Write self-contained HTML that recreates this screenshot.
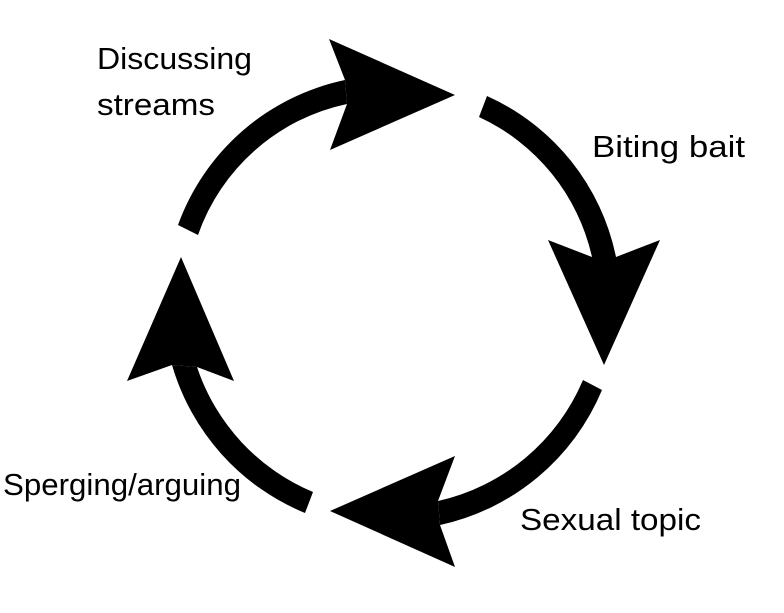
<!DOCTYPE html>
<html>
<head>
<meta charset="utf-8">
<style>
  html, body { margin: 0; padding: 0; background: #ffffff; }
  body { width: 784px; height: 613px; overflow: hidden; }
  svg { display: block; }
  text { font-family: "Liberation Sans", sans-serif; font-size: 31px; fill: #000; }
</style>
</head>
<body>
<svg width="784" height="613" viewBox="0 0 784 613" xmlns="http://www.w3.org/2000/svg">
  <rect x="0" y="0" width="784" height="613" fill="#ffffff"/>

  <!-- Arrow 1: top-left, pointing right -->
  <path d="M178,225 A227,227 0 0 1 345,80 L347,104 A202,202 0 0 0 198,235 Z" fill="#000"/>
  <polygon points="329,39 455,95 330,150 347,104 345,80" fill="#000"/>

  <!-- Arrow 2: right, pointing down -->
  <path d="M487,96 A226,226 0 0 1 616,257 L592,257 A203,203 0 0 0 479,117 Z" fill="#000"/>
  <polygon points="548,240 592,257 616,257 660,240 604,365" fill="#000"/>

  <!-- Arrow 3: bottom, pointing left -->
  <path d="M602,390 A228,228 0 0 1 440,525 L438,501 A206,206 0 0 0 583,380 Z" fill="#000"/>
  <polygon points="455,456 438,501 440,525 455,567 330,511" fill="#000"/>

  <!-- Arrow 4: left, pointing up -->
  <path d="M305,513 A229,229 0 0 1 172,365 L197,367 A206,206 0 0 0 313,492 Z" fill="#000"/>
  <polygon points="181,257 234,381 197,367 172,365 127,381" fill="#000"/>

  <!-- Labels -->
  <text x="97" y="69" textLength="155" lengthAdjust="spacingAndGlyphs">Discussing</text>
  <text x="97" y="115" textLength="118" lengthAdjust="spacingAndGlyphs">streams</text>
  <text x="592" y="157" textLength="153" lengthAdjust="spacingAndGlyphs">Biting bait</text>
  <text x="520" y="530" textLength="181" lengthAdjust="spacingAndGlyphs">Sexual topic</text>
  <text x="3" y="495" textLength="238" lengthAdjust="spacingAndGlyphs">Sperging/arguing</text>
</svg>
</body>
</html>
